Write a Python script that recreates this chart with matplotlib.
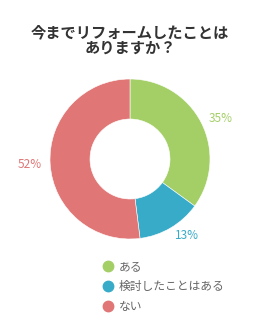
import numpy as np
import matplotlib
matplotlib.use('Agg')
import matplotlib.pyplot as plt
from matplotlib.lines import Line2D

plt.rcParams['font.family'] = ['Noto Sans CJK JP', 'DejaVu Sans']

### data ###
title = '今までリフォームしたことは\nありますか？'
labels = ['ある', '検討したことはある', 'ない']
values = [35, 13, 52]
colors = ['#a4cf67', '#38abc9', '#e07676']

fig = plt.figure(figsize=(2.6, 3.2), dpi=100)
ax = fig.add_axes([0, 0, 1, 1])
ax.set_xlim(0, 260)
ax.set_ylim(0, 320)
ax.set_aspect('equal')
ax.axis('off')

cx, cy, r = 130, 161, 80
wedges, _ = ax.pie(values, colors=colors, startangle=90, counterclock=False,
                   center=(cx, cy), radius=r,
                   wedgeprops=dict(width=r * 0.5, edgecolor='white', linewidth=0.4))
ax.set_xlim(0, 260)
ax.set_ylim(0, 320)

# percentage labels outside the ring, anchored on the ring side
start = 90
for v, c in zip(values, colors):
    mid = np.deg2rad(start - v * 3.6 / 2)
    start -= v * 3.6
    x, y = np.cos(mid), np.sin(mid)
    ax.text(cx + 1.11 * r * x, cy + 1.11 * r * y, f'{v}%', color=c, fontsize=8.5,
            ha='left' if x > 0 else 'right', va='center')

ax.text(130, 280, title, ha='center', va='center', fontsize=11,
        fontweight='bold', color='#333333', linespacing=1.0)

handles = [Line2D([], [], marker='o', linestyle='', markersize=7.5,
                  markerfacecolor=c, markeredgecolor=c) for c in colors]
ax.legend(handles, labels, loc='upper left', bbox_to_anchor=(96, 66),
          bbox_transform=ax.transData, frameon=False, fontsize=8.5,
          labelcolor='#666666', handletextpad=0.4, labelspacing=0.6,
          handlelength=1.0, borderpad=0)

fig.savefig('out.png', dpi=100)
